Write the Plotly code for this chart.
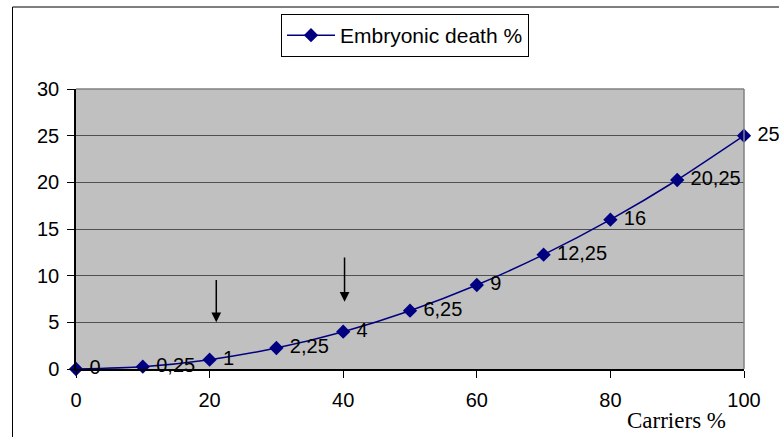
import plotly.graph_objects as go

carriers = [0, 10, 20, 30, 40, 50, 60, 70, 80, 90, 100]
embryonic_death = [0, 0.25, 1, 2.25, 4, 6.25, 9, 12.25, 16, 20.25, 25]
value_labels = ["0", "0,25", "1", "2,25", "4", "6,25", "9", "12,25", "16", "20,25", "25"]
series_name = "Embryonic death %"
x_title = "Carriers %"
arrow_x = [21, 40.2]
arrow_tail_y = [9.7, 12.1]
arrow_tip_y = [5.0, 7.2]

FONT = "Liberation Sans, Arial, sans-serif"
NAVY = "#000080"

L, R, T, B = 76, 35, 89, 68
W, H = 779, 437
pw, ph = W - L - R, H - T - B
def px_x(p):
    return (p - L) / pw
def px_y(p):
    return (H - B - p) / ph

fig = go.Figure()
fig.add_trace(go.Scatter(
    x=carriers, y=embryonic_death, mode="lines+markers+text",
    name=series_name,
    text=[" " + t for t in value_labels], textposition="middle right",
    textfont=dict(family=FONT, size=20, color="black"),
    line=dict(color=NAVY, width=1.5, shape="spline", smoothing=0.6),
    marker=dict(symbol="diamond", size=11, color=NAVY),
    cliponaxis=False,
))

for ax_, t_, h_ in zip(arrow_x, arrow_tail_y, arrow_tip_y):
    fig.add_annotation(x=ax_, y=h_, ax=ax_, ay=t_, xref="x", yref="y",
                       axref="x", ayref="y", text="", showarrow=True,
                       arrowhead=2, arrowsize=1.3, arrowwidth=1.5, arrowcolor="black")

fig.add_annotation(x=px_x(676), y=px_y(420), xref="paper", yref="paper", text=x_title,
                   xanchor="center", yanchor="middle", showarrow=False,
                   font=dict(family="Liberation Serif, Times New Roman, serif", size=23, color="black"))

shapes = [
    dict(type="rect", xref="paper", yref="paper", x0=px_x(12.5), y0=px_y(470), x1=px_x(800), y1=px_y(7),
         line=dict(color="black", width=1), fillcolor="rgba(0,0,0,0)", layer="below"),
    dict(type="line", xref="paper", yref="paper", x0=0, y0=1, x1=1, y1=1, line=dict(color="#808080", width=1.5)),
    dict(type="line", xref="paper", yref="paper", x0=1, y0=0, x1=1, y1=1, line=dict(color="#808080", width=1.5)),
]
fig.update_layout(shapes=shapes)

fig.update_layout(
    width=W, height=H,
    margin=dict(l=L, r=R, t=T, b=B),
    paper_bgcolor="white", plot_bgcolor="#C0C0C0",
    font=dict(family=FONT, size=20, color="black"),
    showlegend=True,
    legend=dict(x=px_x(281), y=px_y(14), xanchor="left", yanchor="top",
                bgcolor="white", bordercolor="black", borderwidth=1,
                font=dict(family=FONT, size=21, color="black"), itemwidth=48),
    xaxis=dict(range=[0, 100], tickvals=[0, 20, 40, 60, 80, 100], showgrid=False,
               showline=True, linecolor="black", linewidth=1.5, ticks="outside", ticklen=7,
               tickcolor="black", zeroline=False, ticklabelstandoff=5),
    yaxis=dict(range=[0, 30], tickvals=[0, 5, 10, 15, 20, 25, 30], showgrid=True,
               gridcolor="#505050", gridwidth=1, showline=True, linecolor="black", linewidth=1.5,
               ticks="outside", ticklen=7, tickcolor="black", zeroline=False, ticklabelstandoff=4),
)

fig.write_html("out.html")
